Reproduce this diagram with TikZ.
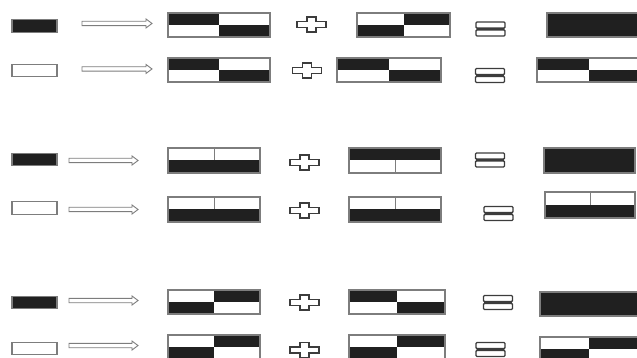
\documentclass[tikz,border=0pt]{standalone}
\usepackage{tikz}
\usetikzlibrary{calc}
\definecolor{ink}{RGB}{32,32,32}
\definecolor{edge}{RGB}{125,125,125}
\definecolor{opc}{RGB}{60,60,60}
\newcommand{\pb}{path picture bounding box}

\begin{document}
\begin{tikzpicture}[x=1pt, y=-1pt,
  chip/.style={draw=edge, line width=1.1pt, minimum width=45pt, minimum height=12.5pt, inner sep=0pt, outer sep=0pt},
  tile/.style={draw=edge, fill=white, line width=1.1pt, minimum height=24pt, inner sep=0pt, outer sep=0pt},
  solid/.style={tile, fill=ink},
  checkA/.style={tile, path picture={\fill[ink] (\pb.north west) rectangle (\pb.center);
      \fill[ink] (\pb.center) rectangle (\pb.south east);}},
  checkB/.style={tile, path picture={\fill[ink] (\pb.north) rectangle (\pb.east);
      \fill[ink] (\pb.west) rectangle (\pb.south);}},
  topwhite/.style={tile, path picture={\fill[ink] (\pb.west) rectangle (\pb.south east);
      \draw[edge, line width=1pt] (\pb.north) -- (\pb.center);}},
  topblack/.style={tile, path picture={\fill[ink] (\pb.north west) rectangle (\pb.east);
      \draw[edge, line width=1pt] (\pb.center) -- (\pb.south);}},
  hollow/.style={draw=edge, fill=white, line width=0.9pt,
    to path={([yshift=2.2pt]\tikztostart) -- ([shift={(-6pt,2.2pt)}]\tikztotarget)
      -- ([shift={(-6pt,4.5pt)}]\tikztotarget) -- (\tikztotarget) -- ([shift={(-6pt,-4.5pt)}]\tikztotarget)
      -- ([shift={(-6pt,-2.2pt)}]\tikztotarget) -- ([yshift=-2.2pt]\tikztostart) -- cycle}},
  op/.style={draw=opc, fill=white, line width=1.4pt},
  plusop/.pic={\draw[op] (-14.5pt,3pt) -- (-4.5pt,3pt) -- (-4.5pt,7.5pt) -- (4.5pt,7.5pt) -- (4.5pt,3pt)
      -- (14.5pt,3pt) -- (14.5pt,-3pt) -- (4.5pt,-3pt) -- (4.5pt,-7.5pt) -- (-4.5pt,-7.5pt)
      -- (-4.5pt,-3pt) -- (-14.5pt,-3pt) -- cycle;},
  eqop/.pic={\draw[op, rounded corners=1pt] (-14.5pt,7pt) rectangle (14.5pt,0.9pt)
      (-14.5pt,-0.9pt) rectangle (14.5pt,-7pt);}]
  \useasboundingbox (0,0) rectangle (637,358);
  \clip (0,0) rectangle (637,358);
  \foreach \i/\y/\c/\xa/\xb/\ya in {1/26/ink/82/152/23.5, 2/70.5/white/82/152/69, 3/159.5/ink/69/138/160.5,
      4/208/white/69/138/209.5, 5/302.5/ink/69/138/300.5, 6/348.5/white/69/138/345.5} {
    \node[chip, fill=\c] (s\i) at (34.5,\y) {};
    \coordinate (a\i) at (\xa,\ya);
    \coordinate (b\i) at (\xb,\ya);
    \draw[hollow] (a\i) to (b\i);
  }
  \foreach \i/\px/\py/\ex/\ey in {1/311.5/24.5/490.5/29, 2/307/70.5/490/75.5, 3/304.5/162.5/490/160,
      4/304.5/210.5/498.5/213.5, 5/304.5/302.5/498/302.5, 6/304.5/350/490.5/349.5} {
    \pic (q\i) at (\px,\py) {plusop};
    \pic (e\i) at (\ex,\ey) {eqop};
  }
  \node[checkA, minimum width=102pt] (p1) at (219,25) {};
  \node[checkB, minimum width=93pt] (p2) at (403.5,25) {};
  \node[solid, minimum width=93pt] (r1) at (593.5,25) {};
  \node[checkA, minimum width=102pt] (p3) at (219,70) {};
  \node[checkA, minimum width=104pt] (p4) at (389,70) {};
  \node[checkA, minimum width=104pt] (r2) at (589,70) {};
  \node[topwhite, minimum width=92pt, minimum height=25pt] (p5) at (214,160.5) {};
  \node[topblack, minimum width=92pt, minimum height=25pt] (p6) at (395,160.5) {};
  \node[solid, minimum width=91pt, minimum height=25pt] (r3) at (589.5,160.5) {};
  \node[topwhite, minimum width=92pt, minimum height=25pt] (p7) at (214,209.5) {};
  \node[topwhite, minimum width=92pt, minimum height=25pt] (p8) at (395,209.5) {};
  \node[topwhite, minimum width=90pt, minimum height=26pt] (r4) at (590,205) {};
  \node[checkB, minimum width=92pt] (p9) at (214,302) {};
  \node[checkA, minimum width=96pt] (p10) at (397,302) {};
  \node[solid, minimum width=100pt] (r5) at (590,304) {};
  \node[checkB, minimum width=92pt] (p11) at (214,347) {};
  \node[checkB, minimum width=96pt] (p12) at (397,347) {};
  \node[checkB, minimum width=98pt] (r6) at (589,349) {};
\end{tikzpicture}
\end{document}
